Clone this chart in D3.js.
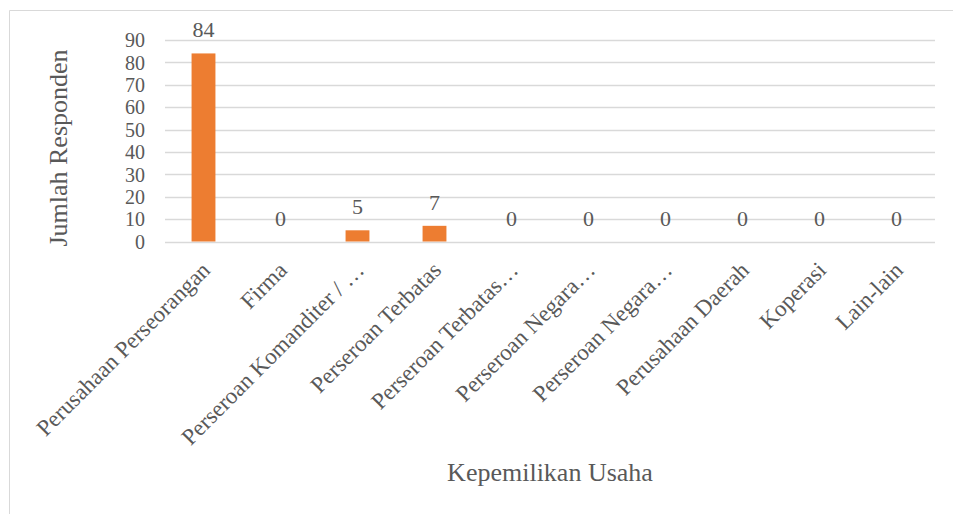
<!DOCTYPE html>
<html>
<head>
<meta charset="utf-8">
<script src="https://cdn.jsdelivr.net/npm/d3@7/dist/d3.min.js"></script>
<style>
  html, body { margin: 0; padding: 0; background: #fff; }
  svg { display: block; }
  text { font-family: "Liberation Serif", "Times New Roman", serif; fill: #595959; }
</style>
</head>
<body>
<svg id="chart" width="953" height="514"></svg>
<script>
// Kepemilikan usaha responden
const categories = [
  "Perusahaan Perseorangan",
  "Firma",
  "Perseroan Komanditer / …",
  "Perseroan Terbatas",
  "Perseroan Terbatas…",
  "Perseroan Negara…",
  "Perseroan Negara…",
  "Perusahaan Daerah",
  "Koperasi",
  "Lain-lain"
];
const values = [84, 0, 5, 7, 0, 0, 0, 0, 0, 0];
const yTicks = [0, 10, 20, 30, 40, 50, 60, 70, 80, 90];
const xTitle = "Kepemilikan Usaha";
const yTitle = "Jumlah Responden";

const svg = d3.select("#chart");
const W = 953, H = 514;
const m = { left: 165, right: 18, top: 40, bottom: 273 };

// chart frame
svg.append("path")
  .attr("d", `M9.5,${H} V10.5 H${W}`)
  .attr("fill", "none")
  .attr("stroke", "#d9d9d9")
  .attr("stroke-width", 1);

const x = d3.scaleBand()
  .domain(d3.range(categories.length))
  .range([m.left, W - m.right])
  .paddingInner(0.69)
  .paddingOuter(0.345);

const y = d3.scaleLinear()
  .domain([0, 90])
  .range([H - m.bottom + 0.5, m.top]);

// horizontal gridlines
svg.append("g")
  .selectAll("line")
  .data(yTicks)
  .join("line")
  .attr("x1", m.left)
  .attr("x2", W - m.right)
  .attr("y1", d => Math.round(y(d)) + 0.5)
  .attr("y2", d => Math.round(y(d)) + 0.5)
  .attr("stroke", "#d9d9d9")
  .attr("stroke-width", 1.3);

// y axis labels
const yAxis = d3.axisLeft(y).tickValues(yTicks).tickSize(0).tickPadding(0);
const gy = svg.append("g")
  .attr("transform", `translate(${m.left - 20},0)`)
  .call(yAxis);
gy.select(".domain").remove();
gy.selectAll("text")
  .attr("font-size", 20)
  .attr("font-family", "Liberation Serif")
  .attr("fill", "#595959")
  .attr("dy", "0.34em");

// bars
svg.append("g")
  .selectAll("rect")
  .data(values)
  .join("rect")
  .attr("x", (d, i) => x(i))
  .attr("width", x.bandwidth())
  .attr("y", d => y(d))
  .attr("height", d => y(0) - y(d))
  .attr("fill", "#ED7D31");

// value labels
svg.append("g")
  .selectAll("text")
  .data(values)
  .join("text")
  .attr("x", (d, i) => x(i) + x.bandwidth() / 2)
  .attr("y", d => y(d) - 16)
  .attr("text-anchor", "middle")
  .attr("font-size", 22)
  .text(d => d);

// category labels, rotated
const xAxis = d3.axisBottom(x).tickSize(0).tickPadding(0).tickFormat(i => categories[i]);
const gx = svg.append("g")
  .attr("transform", `translate(0,${y(0)})`)
  .call(xAxis);
gx.select(".domain").remove();
gx.selectAll("text")
  .attr("font-size", 23)
  .attr("font-family", "Liberation Serif")
  .attr("fill", "#595959")
  .attr("text-anchor", "end")
  .attr("dy", 0)
  .attr("transform", "translate(8,30) rotate(-45)");

// axis titles
svg.append("text")
  .attr("x", 550)
  .attr("y", 481)
  .attr("text-anchor", "middle")
  .attr("font-size", 26)
  .text(xTitle);

svg.append("text")
  .attr("transform", `translate(67,148) rotate(-90)`)
  .attr("text-anchor", "middle")
  .attr("font-size", 26)
  .text(yTitle);
</script>
</body>
</html>
